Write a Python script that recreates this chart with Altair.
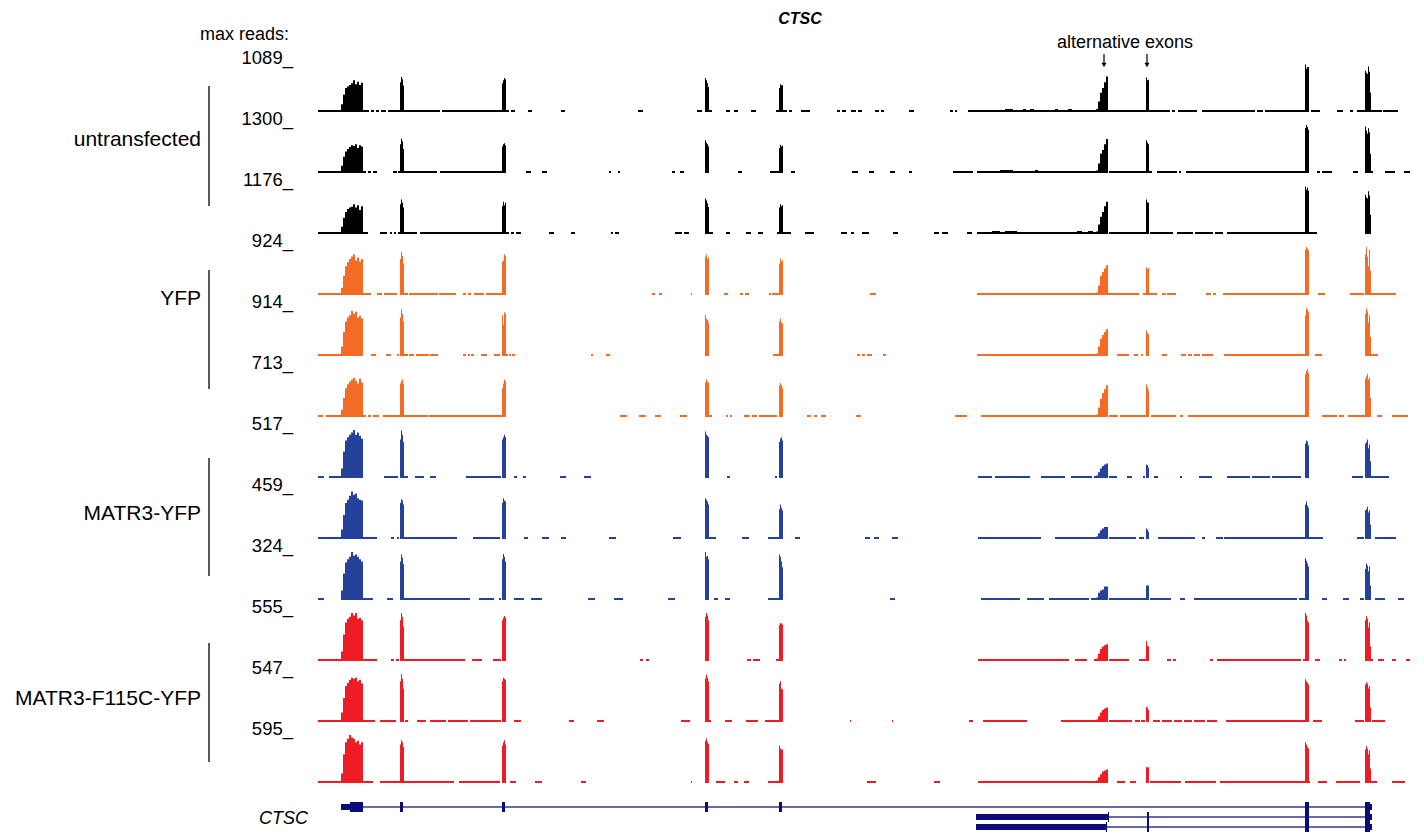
import altair as alt
import pandas as pd

FONT = "Liberation Sans"

# ---------------- data ----------------
MAX_READS = ["1089", "1300", "1176", "924", "914", "713", "517", "459", "324", "555", "547", "595"]
GROUPS = ["untransfected", "YFP", "MATR3-YFP", "MATR3-F115C-YFP"]
GROUP_COLORS = ["#000000", "#f36b25", "#24429a", "#ee1d25"]
ALT_EXONS = [1104, 1147]
LOW = 0.042  # low-coverage level (fraction of track max)

# exon bins: start, bin width, number of bins
EXON_BINS = {
    "E1": (341, 2, 11), "E2": (400, 1, 4), "E3": (502, 1, 4), "E4": (705, 1, 4),
    "E5": (779, 1, 4), "A1": (1096, 2, 6), "A2": (1146, 1, 3), "E8": (1305, 1, 4),
    "E9": (1365, 1, 6),
}

E1 = [
    [0.16, 0.36, 0.50, 0.53, 0.56, 0.60, 0.66, 0.58, 0.63, 0.56, 0.61],
    [0.15, 0.34, 0.45, 0.50, 0.54, 0.58, 0.56, 0.60, 0.52, 0.58, 0.55],
    [0.15, 0.34, 0.46, 0.52, 0.55, 0.57, 0.62, 0.55, 0.60, 0.50, 0.58],
    [0.15, 0.40, 0.60, 0.68, 0.75, 0.80, 0.85, 0.72, 0.78, 0.70, 0.75],
    [0.20, 0.50, 0.72, 0.80, 0.85, 0.94, 0.88, 0.92, 0.80, 0.84, 0.78],
    [0.15, 0.40, 0.60, 0.68, 0.74, 0.78, 0.82, 0.75, 0.70, 0.80, 0.72],
    [0.20, 0.55, 0.78, 0.85, 0.90, 0.95, 1.00, 0.90, 0.95, 0.88, 0.82],
    [0.20, 0.50, 0.75, 0.82, 0.90, 0.99, 0.92, 0.95, 0.85, 0.82, 0.80],
    [0.20, 0.55, 0.78, 0.85, 0.90, 1.00, 0.92, 0.95, 0.90, 0.85, 0.80],
    [0.20, 0.55, 0.80, 0.88, 0.92, 1.00, 0.95, 1.00, 0.88, 0.90, 0.85],
    [0.20, 0.50, 0.75, 0.82, 0.88, 0.92, 0.90, 0.92, 0.85, 0.88, 0.80],
    [0.20, 0.60, 0.85, 0.92, 1.00, 0.95, 0.92, 0.85, 0.88, 0.80, 0.85],
]
E2 = [
    [0.62, 0.73, 0.68, 0.55], [0.60, 0.72, 0.66, 0.50], [0.62, 0.72, 0.65, 0.55],
    [0.75, 0.90, 0.82, 0.65], [0.80, 0.97, 0.88, 0.72], [0.70, 0.75, 0.78, 0.68],
    [0.80, 0.99, 0.90, 0.75], [0.75, 0.83, 0.80, 0.72], [0.80, 0.95, 0.88, 0.75],
    [0.85, 1.00, 0.92, 0.72], [0.85, 1.00, 0.90, 0.70], [0.80, 0.89, 0.85, 0.75],
]
E3 = [
    [0.60, 0.66, 0.71, 0.68], [0.55, 0.60, 0.62, 0.58], [0.58, 0.67, 0.60, 0.65],
    [0.70, 0.72, 0.85, 0.82], [0.85, 0.65, 0.91, 0.88], [0.60, 0.70, 0.78, 0.75],
    [0.80, 0.85, 0.90, 0.86], [0.75, 0.85, 0.80, 0.78], [0.85, 0.96, 0.90, 0.80],
    [0.85, 0.90, 0.94, 0.90], [0.85, 0.92, 0.90, 0.88], [0.78, 0.85, 0.89, 0.80],
]
E4 = [
    [0.71, 0.66, 0.60, 0.52], [0.68, 0.63, 0.60, 0.55], [0.74, 0.70, 0.64, 0.56],
    [0.80, 0.85, 0.75, 0.78], [0.86, 0.78, 0.75, 0.70], [0.72, 0.78, 0.74, 0.72],
    [0.97, 0.90, 0.88, 0.85], [0.85, 0.82, 0.78, 0.72], [1.00, 0.90, 0.92, 0.85],
    [0.92, 1.00, 0.95, 0.85], [0.90, 0.99, 0.92, 0.85], [0.88, 0.93, 0.85, 0.82],
]
E5 = [
    [0.50, 0.58, 0.55, 0.56], [0.52, 0.59, 0.55, 0.57], [0.55, 0.62, 0.58, 0.60],
    [0.65, 0.76, 0.70, 0.72], [0.72, 0.78, 0.70, 0.68], [0.65, 0.71, 0.66, 0.60],
    [0.75, 0.82, 0.85, 0.78], [0.62, 0.72, 0.65, 0.60], [0.95, 0.90, 0.80, 0.68],
    [0.75, 0.79, 0.78, 0.76], [0.80, 0.85, 0.70, 0.68], [0.78, 0.72, 0.70, 0.70],
]
A1 = [
    [0.06, 0.22, 0.40, 0.50, 0.62, 0.74], [0.05, 0.20, 0.40, 0.48, 0.60, 0.71],
    [0.05, 0.20, 0.36, 0.46, 0.58, 0.67], [0.05, 0.20, 0.40, 0.48, 0.55, 0.62],
    [0.05, 0.20, 0.36, 0.44, 0.50, 0.56], [0.05, 0.20, 0.38, 0.50, 0.58, 0.66],
    [0.05, 0.12, 0.20, 0.25, 0.28, 0.30], [0.05, 0.12, 0.18, 0.22, 0.25, 0.25],
    [0.05, 0.15, 0.20, 0.22, 0.28, 0.28], [0.05, 0.15, 0.25, 0.30, 0.33, 0.35],
    [0.05, 0.12, 0.20, 0.25, 0.28, 0.30], [0.05, 0.12, 0.18, 0.24, 0.26, 0.28],
]
A2 = [
    [0.72, 0.66, 0.67], [0.68, 0.63, 0.60], [0.72, 0.66, 0.65],
    [0.58, 0.54, 0.56], [0.53, 0.48, 0.45], [0.68, 0.62, 0.55],
    [0.28, 0.27, 0.22], [0.22, 0.20, 0.15], [0.30, 0.30, 0.30],
    [0.42, 0.32, 0.30], [0.31, 0.30, 0.25], [0.33, 0.33, 0.33],
]
E8 = [
    [0.99, 0.90, 0.94, 0.93], [0.94, 1.00, 0.96, 0.90], [0.99, 0.92, 0.97, 0.90],
    [0.95, 1.00, 0.97, 0.93], [0.85, 1.00, 0.96, 0.92], [0.90, 0.96, 1.00, 0.92],
    [0.72, 0.78, 0.76, 0.68], [0.72, 0.78, 0.70, 0.65], [0.87, 0.82, 0.76, 0.70],
    [1.00, 0.95, 0.85, 0.80], [0.89, 0.85, 0.82, 0.78], [0.85, 0.80, 0.75, 0.72],
]
E9 = [
    [0.86, 0.82, 0.79, 0.95, 0.84, 0.40], [0.97, 0.88, 0.82, 0.93, 0.85, 0.40],
    [0.82, 0.76, 0.74, 0.89, 0.80, 0.40], [0.85, 1.00, 0.80, 0.60, 0.95, 0.50],
    [0.88, 0.99, 0.93, 0.70, 0.85, 0.40], [0.80, 0.85, 0.90, 0.78, 0.82, 0.40],
    [0.72, 0.75, 0.80, 0.62, 0.70, 0.35], [0.60, 0.62, 0.67, 0.55, 0.60, 0.30],
    [0.65, 0.76, 0.72, 0.60, 0.70, 0.30], [0.85, 0.94, 0.88, 0.70, 0.80, 0.30],
    [0.78, 0.83, 0.80, 0.70, 0.75, 0.30], [0.70, 0.77, 0.72, 0.60, 0.68, 0.30],
]
PEAK_TABLES = {"E1": E1, "E2": E2, "E3": E3, "E4": E4, "E5": E5,
               "A1": A1, "A2": A2, "E8": E8, "E9": E9}

# low-coverage stretches (start, end) per track
SEG_T1 = [(318, 341), (363, 369), (371, 374), (376, 379), (381, 386), (388, 400), (404, 440), (442, 502),
          (506, 509), (511, 515), (528, 532), (561, 565), (638, 643), (697, 702), (709, 712), (726, 730),
          (734, 738), (751, 756), (776, 779), (783, 787), (789, 792), (801, 810), (837, 840), (842, 846),
          (851, 856), (858, 862), (875, 879), (881, 884), (909, 914), (950, 953), (955, 957), (968, 1096),
          (1108, 1170), (1172, 1175), (1178, 1197), (1202, 1255), (1257, 1263), (1265, 1305), (1311, 1320),
          (1337, 1343), (1350, 1353), (1357, 1365), (1371, 1382), (1383, 1398)]
SEG_T2 = [(318, 341), (363, 366), (368, 371), (373, 377), (393, 397), (398, 400), (404, 437), (440, 502),
          (526, 531), (542, 547), (609, 611), (618, 620), (672, 675), (680, 684), (738, 742), (770, 779),
          (791, 795), (852, 858), (869, 874), (890, 895), (909, 912), (953, 973), (977, 1096), (1109, 1152),
          (1157, 1177), (1179, 1181), (1186, 1305), (1317, 1320), (1322, 1332), (1353, 1358), (1371, 1373),
          (1385, 1395), (1404, 1410)]
SEG_T3 = [(318, 341), (363, 368), (380, 387), (390, 392), (394, 396), (398, 400), (404, 417), (420, 502),
          (506, 509), (511, 514), (516, 521), (549, 554), (571, 575), (611, 613), (615, 619), (675, 682),
          (684, 689), (709, 713), (726, 730), (746, 751), (758, 763), (777, 779), (783, 791), (805, 814),
          (841, 847), (851, 854), (862, 869), (893, 898), (934, 939), (942, 948), (967, 972), (977, 1096),
          (1109, 1148), (1150, 1173), (1177, 1193), (1195, 1213), (1215, 1223), (1227, 1305), (1309, 1317)]
SEG_T4 = [(318, 341), (363, 371), (377, 382), (384, 397), (404, 408), (409, 438), (439, 456), (463, 466),
          (468, 471), (474, 484), (486, 502), (652, 655), (659, 662), (691, 692), (724, 728), (740, 743),
          (745, 749), (769, 771), (772, 779), (870, 876), (977, 1096), (1108, 1139), (1143, 1146),
          (1149, 1157), (1162, 1166), (1167, 1176), (1206, 1211), (1213, 1216), (1223, 1305), (1318, 1325),
          (1350, 1364), (1371, 1396)]
SEG_T5 = [(318, 341), (371, 376), (386, 391), (397, 399), (404, 408), (409, 414), (416, 429), (430, 438),
          (463, 466), (468, 470), (471, 474), (481, 487), (494, 500), (506, 508), (509, 511), (512, 515),
          (591, 593), (606, 610), (773, 779), (857, 860), (862, 865), (867, 872), (883, 886), (977, 1096),
          (1117, 1129), (1134, 1138), (1141, 1143), (1162, 1167), (1181, 1186), (1188, 1192), (1194, 1200),
          (1202, 1213), (1224, 1305), (1315, 1322), (1371, 1378)]
SEG_T6 = [(318, 323), (326, 341), (363, 366), (368, 371), (373, 379), (383, 400), (404, 428), (429, 502),
          (620, 627), (639, 646), (655, 661), (680, 687), (709, 712), (726, 728), (730, 732), (744, 750),
          (752, 757), (759, 777), (807, 811), (814, 817), (821, 826), (856, 861), (955, 967), (981, 1096),
          (1109, 1118), (1120, 1146), (1151, 1176), (1180, 1183), (1188, 1305), (1322, 1337), (1339, 1344),
          (1348, 1365), (1377, 1382), (1392, 1408)]
SEG_T7 = [(318, 324), (329, 341), (384, 398), (404, 408), (415, 424), (430, 436), (466, 501), (514, 517),
          (523, 526), (560, 566), (584, 591), (727, 730), (775, 777), (978, 992), (995, 1030), (1041, 1065),
          (1071, 1092), (1094, 1096), (1109, 1117), (1127, 1132), (1143, 1145), (1154, 1158), (1180, 1182),
          (1199, 1212), (1227, 1250), (1252, 1270), (1272, 1301), (1352, 1363), (1371, 1389)]
SEG_T8 = [(318, 341), (363, 377), (391, 394), (397, 399), (404, 457), (473, 500), (524, 528), (542, 549),
          (561, 566), (609, 616), (673, 681), (709, 716), (742, 749), (768, 779), (795, 800), (865, 870),
          (874, 879), (892, 898), (978, 1041), (1055, 1096), (1109, 1136), (1139, 1144), (1158, 1195),
          (1202, 1205), (1216, 1223), (1224, 1305), (1309, 1323), (1357, 1364), (1375, 1396)]
SEG_T9 = [(318, 324), (363, 373), (387, 393), (404, 470), (479, 494), (499, 501), (514, 524), (531, 542),
          (588, 595), (614, 623), (668, 675), (714, 718), (725, 730), (768, 779), (890, 895), (981, 1020),
          (1027, 1044), (1049, 1089), (1091, 1096), (1109, 1146), (1150, 1171), (1180, 1185), (1194, 1297),
          (1299, 1305), (1322, 1327), (1343, 1349), (1360, 1364), (1375, 1385), (1398, 1404)]
SEG_T10 = [(318, 341), (363, 377), (391, 394), (396, 399), (404, 465), (472, 482), (493, 501), (640, 643),
           (646, 649), (747, 751), (753, 760), (776, 779), (978, 1069), (1075, 1087), (1094, 1096),
           (1109, 1129), (1139, 1146), (1167, 1171), (1173, 1176), (1210, 1213), (1217, 1301), (1303, 1305),
           (1315, 1320), (1339, 1342), (1344, 1346), (1371, 1373), (1378, 1384), (1392, 1396), (1406, 1410)]
SEG_T11 = [(318, 341), (363, 375), (380, 396), (405, 408), (417, 426), (430, 446), (448, 468), (470, 501),
           (514, 521), (569, 574), (597, 604), (681, 690), (709, 711), (725, 732), (746, 758), (765, 779),
           (850, 851), (892, 893), (969, 973), (983, 1027), (1061, 1096), (1109, 1132), (1135, 1140),
           (1141, 1145), (1153, 1160), (1162, 1172), (1174, 1182), (1184, 1192), (1194, 1205), (1207, 1217),
           (1226, 1305), (1313, 1322), (1355, 1364), (1372, 1385)]
SEG_T12 = [(318, 341), (363, 373), (380, 400), (404, 454), (459, 500), (510, 516), (535, 542), (581, 586),
           (691, 692), (716, 725), (734, 738), (744, 749), (768, 779), (867, 876), (934, 940), (978, 1096),
           (1117, 1125), (1130, 1136), (1150, 1181), (1185, 1216), (1220, 1305), (1309, 1310), (1318, 1327),
           (1336, 1360), (1371, 1377), (1392, 1405)]
SEGMENTS = [SEG_T1, SEG_T2, SEG_T3, SEG_T4, SEG_T5, SEG_T6, SEG_T7, SEG_T8, SEG_T9, SEG_T10, SEG_T11, SEG_T12]

# slightly raised stretches in the untransfected tracks
BUMPS = {0: [(1005, 1013), (1023, 1026), (1030, 1034), (1055, 1058), (1068, 1072)],
         1: [(1000, 1013), (1035, 1038)],
         2: [(992, 1000), (1005, 1017), (1077, 1082), (1088, 1093)]}
BUMP_LEVEL = 0.062

# gene model: transcript row, start, end, kind
GENE_EXONS = [
    (0, 341, 350, "utr"), (0, 350, 363, "cds"), (0, 400, 403, "cds"), (0, 502, 505, "cds"),
    (0, 705, 708, "cds"), (0, 779, 782, "cds"), (0, 1305, 1309, "cds"), (0, 1365, 1370, "cds"),
    (0, 1370, 1372, "utr"),
    (1, 976, 1108, "utr"), (1, 1108, 1109, "cds"), (1, 1147, 1149, "cds"), (1, 1305, 1309, "cds"),
    (1, 1365, 1370, "cds"), (1, 1370, 1372, "utr"),
    (2, 976, 1106, "utr"), (2, 1106, 1107, "cds"), (2, 1147, 1149, "cds"), (2, 1305, 1309, "cds"),
    (2, 1365, 1370, "cds"), (2, 1370, 1372, "utr"),
]
GENE_INTRONS = [(0, 341, 1372), (1, 1108, 1372), (2, 1106, 1372)]

# ---------------- chart ----------------
XSCALE = alt.Scale(domain=[318, 1412], nice=False, zero=False)
TRACK_W, TRACK_H = 1094, 48
GROUP_LINE = [(22, 142), (23, 142), (28, 146), (30, 149)]
GROUP_TEXT_Y = [76, 52, 84, 86]


def text_layer(txt, x, y, size, align="right", baseline="middle", style=None, weight=None):
    kw = dict(align=align, baseline=baseline, fontSize=size, font=FONT, color="black")
    if style:
        kw["fontStyle"] = style
    if weight:
        kw["fontWeight"] = weight
    return alt.Chart(pd.DataFrame({"t": [txt]})).mark_text(**kw).encode(
        x=alt.value(x), y=alt.value(y), text="t:N")


tracks = []
for i in range(12):
    g = i // 3
    rows = [dict(start=s, end=e, lo=0.0, hi=LOW) for s, e in SEGMENTS[i]]
    rows += [dict(start=s, end=e, lo=0.0, hi=BUMP_LEVEL) for s, e in BUMPS.get(i, [])]
    for name, (s0, w, n) in EXON_BINS.items():
        for k, h in enumerate(PEAK_TABLES[name][i]):
            rows.append(dict(start=s0 + k * w, end=s0 + (k + 1) * w, lo=0.0, hi=h))
    df = pd.DataFrame(rows)
    cov = alt.Chart(df).mark_rect(color=GROUP_COLORS[g]).encode(
        x=alt.X("start:Q", scale=XSCALE, axis=None),
        x2="end:Q",
        y=alt.Y("lo:Q", scale=alt.Scale(domain=[0, 1], nice=False), axis=None),
        y2="hi:Q",
    )
    layers = [cov, text_layer(MAX_READS[i] + "_", -25, 0, 18.5, baseline="alphabetic")]
    if i % 3 == 0:
        y1, y2 = GROUP_LINE[g]
        layers.append(alt.Chart(pd.DataFrame({"a": [0]})).mark_rule(color="black", strokeWidth=1.3).encode(
            x=alt.value(-109), y=alt.value(y1), y2=alt.value(y2)))
        layers.append(text_layer(GROUPS[g], -117, GROUP_TEXT_Y[g], 21))
    if i == 0:
        layers.append(text_layer("CTSC", 482, -45, 16, align="center", style="italic", weight="bold"))
        layers.append(text_layer("max reads:", -29, -29, 18))
        layers.append(text_layer("alternative exons", 807, -21, 18, align="center"))
        arr = pd.DataFrame({"pos": ALT_EXONS})
        layers.append(alt.Chart(arr).mark_rule(color="black", strokeWidth=1.2).encode(
            x=alt.X("pos:Q", scale=XSCALE, axis=None), y=alt.value(-10), y2=alt.value(0)))
        layers.append(alt.Chart(arr).mark_point(shape="triangle-down", filled=True, size=26,
                                                color="black", opacity=1).encode(
            x=alt.X("pos:Q", scale=XSCALE, axis=None), y=alt.value(1)))
    tracks.append(alt.layer(*layers).properties(width=TRACK_W, height=TRACK_H))

# gene model
ex = pd.DataFrame(GENE_EXONS, columns=["row", "start", "end", "kind"])
half = ex["kind"].map({"cds": 0.5, "utr": 0.3})
ex["y1"] = ex["row"] - half
ex["y2"] = ex["row"] + half
intr = pd.DataFrame(GENE_INTRONS, columns=["row", "start", "end"])
YG = alt.Scale(domain=[-1.1, 2.5], reverse=True, nice=False, zero=False)
introns = alt.Chart(intr).mark_rule(color="#6a6aaa", strokeWidth=2).encode(
    x=alt.X("start:Q", scale=XSCALE, axis=None), x2="end:Q",
    y=alt.Y("row:Q", scale=YG, axis=None))
exons = alt.Chart(ex).mark_rect(color="#0c0c78").encode(
    x=alt.X("start:Q", scale=XSCALE, axis=None), x2="end:Q",
    y=alt.Y("y1:Q", scale=YG, axis=None), y2="y2:Q")
gene = alt.layer(introns, exons, text_layer("CTSC", -10, 23, 18, style="italic")).properties(
    width=TRACK_W, height=36)

chart = alt.vconcat(*tracks, gene, spacing=13, bounds="flush").properties(
    padding={"left": 15, "top": 11, "right": 0, "bottom": 0}
).configure_view(stroke=None)

chart.save("out.html", embed_options={"renderer": "svg", "actions": False})
